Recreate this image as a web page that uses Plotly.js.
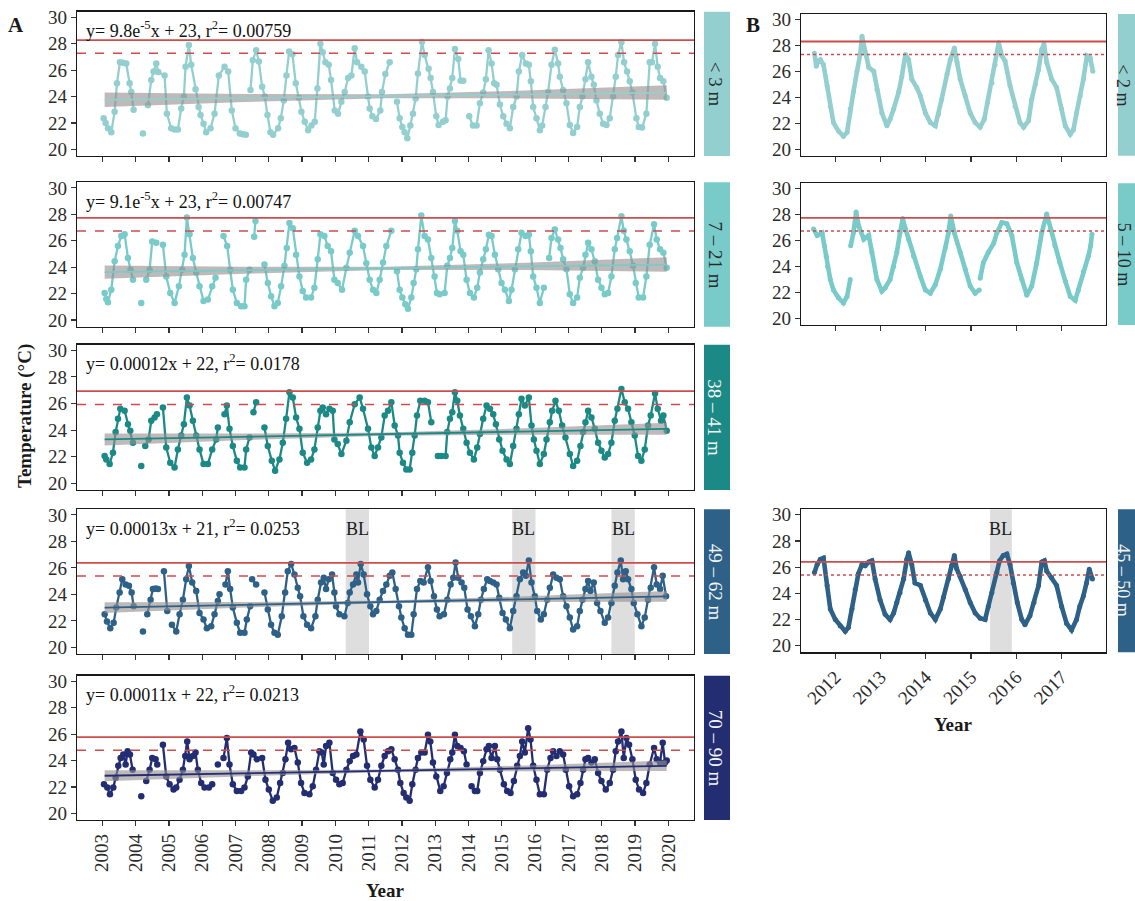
<!DOCTYPE html>
<html><head><meta charset="utf-8">
<script src="https://cdn.plot.ly/plotly-3.0.1.min.js"></script>
<style>body{margin:0;background:#fff}#chart{width:1135px;height:901px}</style>
</head><body><div id="chart"></div>
<script>
// ---------------- DATA ----------------
// Panel A, depth band < 3 m
const yearA1 = [
 2003.04,2003.10,2003.17,2003.27,2003.37,2003.44,2003.53,2003.62,2003.72,2003.82,2003.87,2003.94,null,
 2004.22,null,
 2004.37,2004.47,2004.54,2004.62,2004.68,2004.87,2004.94,
 2005.07,2005.17,2005.27,2005.37,2005.45,2005.50,2005.60,2005.67,2005.80,2005.89,2005.95,
 2006.04,2006.12,2006.25,2006.37,2006.50,2006.67,2006.78,2006.89,
 2007.00,2007.13,2007.22,2007.31,null,
 2007.45,2007.52,2007.62,2007.70,2007.80,2007.88,2007.96,
 2008.05,2008.13,2008.28,2008.36,2008.45,2008.53,2008.61,2008.71,2008.81,2008.90,2008.98,
 2009.08,2009.18,2009.28,2009.38,2009.46,2009.55,2009.62,2009.70,2009.80,2009.87,2009.98,
 2010.08,2010.18,2010.28,2010.38,2010.48,2010.58,2010.65,2010.78,2010.88,2010.98,
 2011.03,2011.11,2011.22,2011.35,2011.40,2011.50,2011.63,null,
 2011.85,2011.93,2012.01,2012.08,2012.16,2012.25,2012.33,2012.41,2012.48,2012.60,2012.68,2012.80,2012.86,2012.93,
 2013.03,2013.10,2013.23,2013.31,2013.37,2013.44,2013.51,2013.59,2013.69,2013.76,2013.84,null,
 2014.02,2014.13,2014.24,2014.34,2014.44,2014.52,2014.60,2014.69,2014.77,2014.84,2014.94,
 2015.04,2015.14,2015.24,2015.34,2015.44,2015.51,2015.61,2015.72,2015.81,2015.87,2015.94,
 2016.04,2016.14,2016.21,2016.31,2016.39,2016.49,2016.59,2016.69,2016.74,2016.84,2016.94,
 2017.04,2017.14,2017.26,2017.34,2017.42,2017.51,2017.59,2017.69,2017.76,2017.84,2017.94,
 2018.04,2018.14,2018.24,2018.34,2018.42,2018.49,2018.59,2018.67,2018.76,2018.84,2018.92,
 2019.04,2019.11,2019.21,2019.34,2019.44,2019.51,2019.60,2019.68,2019.75,2019.85,2019.95];
const tempA1 = [
 22.35,22.0,21.6,21.3,22.85,25.0,26.6,26.55,26.5,25.0,24.35,23.0,null,
 21.2,null,
 23.35,25.25,25.9,26.5,25.85,25.6,22.7,
 21.6,21.5,21.5,23.1,24.0,26.25,27.9,26.4,24.55,23.2,22.6,
 21.95,21.3,21.6,22.7,25.6,26.25,25.9,22.95,
 21.6,21.2,21.15,21.1,null,
 24.5,26.75,27.5,26.65,24.75,24.0,22.6,
 21.3,21.1,21.6,22.35,23.7,25.6,27.4,27.2,25.0,23.9,22.85,
 22.1,21.45,21.8,22.1,24.6,28.0,27.35,26.6,26.4,25.25,22.95,
 22.7,23.6,24.35,25.4,25.6,27.65,26.6,26.25,25.9,24.0,
 23.1,22.5,22.3,22.95,24.35,25.7,26.6,null,
 23.6,22.35,21.7,21.3,20.85,21.8,22.7,23.85,25.75,28.15,27.15,26.1,25.4,24.35,
 22.5,21.85,22.1,22.2,24.0,24.6,25.4,27.6,26.85,25.2,25.2,null,
 22.5,21.8,21.8,23.5,24.3,25.3,27.5,26.5,25.0,24.9,23.4,
 22.5,21.95,21.6,23.2,24.0,25.9,27.15,26.5,26.4,25.15,23.2,
 22.35,21.45,21.8,23.2,24.35,26.4,27.55,26.5,25.5,24.5,23.5,
 21.85,21.25,21.7,23.2,24.0,25.3,26.6,25.5,24.9,23.7,22.7,
 21.95,21.85,22.35,24.0,25.5,27.15,28.1,26.6,25.9,25.15,24.3,
 22.35,21.7,21.65,22.7,26.6,26.6,28.0,26.25,25.4,25.15,23.9];

// Panel A, 7 - 21 m
const yearA2 = [
 2003.07,2003.12,2003.17,2003.27,2003.37,2003.47,2003.57,2003.67,2003.77,2003.85,2003.92,null,
 2004.17,null,
 2004.32,2004.42,2004.50,2004.62,null,
 2004.82,2004.92,2005.04,2005.17,2005.30,2005.40,2005.47,2005.54,2005.62,2005.72,2005.82,2005.92,2006.04,2006.17,2006.30,2006.40,null,
 2006.64,2006.75,2006.84,2006.92,2007.04,2007.17,2007.27,2007.32,2007.42,null,
 2007.56,2007.60,null,
 2007.87,2007.97,
 2008.07,2008.17,2008.27,2008.37,2008.47,2008.54,2008.62,2008.72,2008.82,2008.92,
 2009.02,2009.12,2009.27,2009.37,2009.47,2009.55,2009.67,2009.77,2009.87,2009.97,
 2010.07,2010.20,2010.33,2010.43,2010.58,2010.68,2010.83,2010.93,
 2011.03,2011.13,2011.23,2011.33,2011.43,2011.53,2011.68,null,
 2011.85,2011.93,
 2012.01,2012.10,2012.18,2012.28,2012.35,2012.43,2012.48,2012.58,2012.68,2012.78,2012.88,2012.98,
 2013.05,2013.13,2013.28,2013.36,2013.44,2013.51,2013.59,2013.66,2013.76,2013.84,2013.94,
 2014.04,2014.16,2014.26,2014.34,2014.44,2014.52,2014.61,2014.69,2014.79,2014.89,2014.99,
 2015.09,2015.21,2015.29,2015.39,2015.49,2015.59,2015.71,2015.81,2015.87,2015.94,
 2016.04,2016.14,2016.26,null,
 2016.42,2016.49,2016.59,2016.69,2016.76,2016.84,2016.94,
 2017.04,2017.14,2017.26,2017.34,2017.44,2017.51,2017.59,2017.69,2017.79,2017.89,2017.99,
 2018.09,2018.19,2018.29,2018.39,2018.46,2018.59,2018.66,2018.74,2018.84,2018.94,
 2019.02,2019.11,2019.24,2019.34,2019.44,2019.57,2019.65,2019.75,2019.85,2019.95];
const tempA2 = [
 22.05,21.6,21.35,22.3,24.45,25.6,26.35,26.5,24.7,23.8,23.05,null,
 21.3,null,
 23.05,23.8,25.95,25.85,null,
 25.7,23.3,22.05,21.3,22.55,23.8,24.95,27.75,26.5,24.7,23.6,22.55,21.45,21.55,22.55,23.2,null,
 26.35,25.6,23.8,22.3,21.3,21.05,21.05,23.05,23.8,null,
 26.3,27.5,null,
 24.2,22.8,
 21.8,21.05,21.3,22.55,24.1,25.45,27.35,26.95,24.95,23.3,
 22.2,21.7,21.7,22.45,24.6,26.5,26.35,25.6,25.2,23.05,
 22.8,22.3,23.95,25.1,26.75,26.35,25.6,24.3,
 23.05,22.3,22.05,23.05,24.35,25.6,26.75,null,
 23.7,22.3,
 21.7,21.2,20.85,21.7,22.8,23.85,25.35,27.9,26.35,26.1,24.7,23.3,
 22.05,21.95,22.05,24.1,24.7,25.45,27.5,26.75,25.2,24.95,23.05,
 22.05,21.7,22.45,23.6,24.6,25.35,26.45,26.35,24.95,23.85,22.8,
 22.3,21.45,22.3,23.85,25.35,26.6,26.35,26.45,25.2,23.3,
 22.45,21.3,22.45,null,
 24.7,26.2,26.85,26.1,25.45,24.6,23.85,
 21.95,21.3,21.7,23.2,23.95,24.95,25.85,25.35,24.45,23.05,22.45,
 21.95,22.05,23.3,25.35,26.2,27.85,26.75,26.1,25.2,24.1,
 22.8,21.7,21.7,23.3,25.7,27.25,26.1,25.35,25.1,23.95];

// Panel A, 38 - 41 m
const yearA3 = [
 2003.07,2003.12,2003.22,2003.32,2003.40,2003.47,2003.54,2003.67,2003.77,2003.84,2003.92,null,
 2004.17,null,
 2004.29,2004.39,2004.47,2004.57,2004.64,null,
 2004.82,2004.92,2005.04,2005.17,2005.27,2005.37,2005.45,2005.54,2005.62,2005.72,2005.82,2005.92,2006.04,2006.17,2006.30,2006.42,2006.47,null,
 2006.67,2006.74,2006.82,2006.92,2007.04,2007.14,2007.27,2007.32,2007.42,null,
 2007.54,2007.62,null,
 2007.87,2007.97,
 2008.09,2008.19,2008.32,2008.42,2008.52,2008.62,2008.72,2008.82,2008.92,
 2009.02,2009.15,2009.27,2009.37,2009.47,2009.55,2009.62,2009.72,2009.82,2009.92,2009.97,
 2010.07,2010.18,2010.33,2010.43,2010.58,2010.73,2010.83,2010.98,
 2011.08,2011.18,2011.28,2011.38,2011.48,2011.58,2011.68,2011.78,2011.88,2011.93,
 2012.03,2012.13,2012.23,2012.31,2012.38,2012.45,2012.55,2012.68,2012.78,2012.88,null,
 2013.08,2013.18,2013.31,2013.36,2013.44,2013.51,2013.59,2013.66,2013.74,2013.84,2013.94,
 2014.04,2014.16,2014.26,2014.34,2014.44,2014.54,2014.64,2014.74,2014.82,2014.92,
 2015.02,2015.14,2015.24,2015.34,2015.44,2015.51,2015.59,2015.69,2015.81,2015.89,2015.96,
 2016.04,2016.14,2016.26,2016.34,2016.44,2016.51,2016.61,2016.71,2016.81,2016.91,
 2017.04,2017.14,2017.26,2017.36,2017.44,2017.51,2017.59,2017.69,2017.79,2017.89,2017.99,
 2018.09,2018.19,2018.29,2018.39,2018.47,2018.59,2018.69,2018.79,2018.89,2018.99,
 2019.09,2019.19,2019.29,2019.39,2019.47,2019.60,2019.68,2019.78,2019.85,2019.95];
const tempA3 = [
 22.05,21.8,21.45,22.3,23.85,24.85,25.6,25.45,24.45,23.95,23.05,null,
 21.3,null,
 22.8,23.3,24.7,24.95,25.2,null,
 25.7,22.7,21.55,21.2,22.55,23.6,24.45,26.45,25.85,24.7,23.6,22.55,21.45,21.45,22.55,23.3,24.2,null,
 25.2,25.85,24.1,22.8,21.7,21.2,21.2,22.55,23.45,null,
 25.35,26.1,null,
 24.2,22.8,
 21.7,20.95,21.8,23.05,24.85,26.85,26.45,24.95,24.1,
 22.3,21.55,21.8,22.55,24.2,25.45,25.7,25.2,25.6,25.45,23.3,
 22.95,22.2,23.2,24.6,25.95,26.45,25.6,24.1,
 22.7,22.05,22.7,23.45,25.1,25.45,26.1,24.35,23.6,22.3,
 21.55,21.05,21.05,22.3,23.6,25.1,26.2,26.2,26.1,24.6,null,
 22.05,22.05,22.05,23.85,24.85,25.35,26.85,26.2,25.1,24.1,23.05,
 22.3,21.8,22.7,23.7,24.85,25.85,25.6,25.2,24.45,23.3,
 22.45,21.8,21.45,22.8,24.1,25.2,26.35,25.85,26.45,24.35,23.3,
 22.45,21.45,22.2,23.3,24.6,25.45,26.2,25.45,24.35,23.45,
 22.2,21.3,21.7,22.8,23.85,24.6,25.45,24.95,24.1,23.05,22.45,
 21.95,22.2,23.05,24.7,25.6,27.1,26.1,25.6,24.6,23.6,
 22.05,21.7,22.55,24.35,25.1,26.75,25.6,24.7,25.1,23.95];

// Panel A, 49 - 62 m
const yearA4 = [
 2003.07,2003.14,2003.24,2003.34,2003.42,2003.52,2003.60,2003.70,2003.80,2003.88,2003.94,null,
 2004.22,null,
 2004.35,2004.45,2004.52,2004.60,2004.67,null,
 2004.85,2004.95,null,
 2005.09,2005.22,2005.32,2005.42,2005.52,2005.60,2005.70,2005.82,2005.92,2006.04,2006.14,2006.27,2006.37,2006.47,2006.52,null,
 2006.70,2006.77,2006.84,2006.92,2007.04,2007.14,2007.27,2007.34,2007.44,null,
 2007.50,2007.62,null,
 2007.87,2007.97,
 2008.07,2008.17,2008.27,2008.39,2008.49,2008.57,2008.67,2008.77,2008.87,2008.94,
 2009.04,2009.15,2009.27,2009.40,2009.47,2009.57,2009.65,2009.72,2009.80,2009.90,2009.97,
 2010.02,2010.12,2010.27,2010.37,2010.43,2010.53,2010.63,2010.68,2010.76,2010.85,2010.95,
 2011.05,2011.13,2011.23,2011.33,2011.43,2011.53,2011.63,2011.71,2011.81,2011.91,2011.98,
 2012.08,2012.18,2012.28,2012.35,2012.45,2012.55,2012.65,2012.78,2012.86,2012.96,
 2013.05,2013.13,2013.26,2013.36,2013.46,2013.54,2013.61,2013.69,2013.79,2013.87,2013.97,
 2014.07,2014.19,2014.29,2014.37,2014.46,2014.56,2014.64,2014.74,2014.84,2014.92,
 2015.02,2015.12,2015.24,2015.34,2015.44,2015.54,2015.64,2015.72,2015.81,2015.89,2015.99,
 2016.06,2016.17,2016.26,2016.36,2016.44,2016.54,2016.64,2016.74,2016.84,2016.94,
 2017.04,2017.14,2017.26,2017.34,2017.42,2017.51,2017.59,2017.66,2017.76,2017.86,2017.96,
 2018.09,2018.19,2018.29,2018.39,2018.47,2018.57,2018.64,2018.72,2018.79,2018.89,2018.96,
 2019.07,2019.19,2019.29,2019.39,2019.47,2019.57,2019.65,2019.75,2019.83,2019.93];
const tempA4 = [
 22.5,21.95,21.45,21.85,23.0,24.15,25.15,24.75,24.65,24.15,23.1,null,
 21.2,null,
 22.5,23.6,24.4,24.45,24.4,null,
 25.75,22.75,null,
 21.7,21.2,22.5,23.6,25.15,26.15,24.9,24.25,22.6,22.1,21.45,21.6,22.5,23.5,24.0,null,
 24.75,25.75,24.4,23.0,21.85,21.1,21.1,22.1,23.1,null,
 25.15,24.75,null,
 24.15,22.85,
 21.7,21.1,20.95,22.35,24.15,25.75,26.3,25.5,24.5,23.85,
 22.35,21.7,21.45,22.35,23.6,24.9,25.25,24.4,25.15,25.5,24.15,
 23.1,22.5,22.35,23.35,24.15,24.75,25.5,24.9,26.3,25.5,24.0,
 23.1,22.5,22.75,23.6,24.25,24.75,25.4,25.65,24.4,23.1,22.25,
 21.45,20.95,20.95,22.5,24.4,25.0,24.9,26.05,25.0,23.85,
 22.85,22.35,22.5,23.6,24.75,25.25,26.4,25.25,24.9,24.5,22.85,
 22.35,21.6,22.5,23.6,24.4,25.15,25.0,24.9,24.75,23.75,
 22.6,22.1,21.45,22.75,23.85,25.15,25.65,25.4,26.55,24.9,23.85,
 22.75,22.1,22.5,23.6,24.5,25.5,25.25,25.15,23.85,23.1,
 22.25,21.35,21.6,22.75,23.6,24.4,25.0,24.25,24.9,23.35,22.75,
 21.85,22.25,23.35,24.65,25.65,26.55,25.15,25.75,25.15,24.4,23.35,
 22.5,21.6,22.25,23.6,24.5,26.05,24.75,24.4,25.4,23.85];

// Panel A, 70 - 90 m
const yearA5 = [
 2003.05,2003.15,2003.23,2003.33,2003.40,2003.48,2003.55,2003.63,2003.70,2003.76,2003.83,2003.91,null,
 2004.17,null,
 2004.32,2004.42,2004.50,2004.60,2004.65,null,
 2004.82,2004.92,2005.02,2005.14,2005.22,2005.32,2005.42,2005.49,2005.55,2005.62,2005.72,2005.80,2005.87,2005.97,2006.07,2006.20,2006.30,null,
 2006.47,null,
 2006.64,2006.74,2006.82,2006.92,2007.04,2007.17,2007.27,2007.37,2007.47,2007.54,2007.64,null,
 2007.80,2007.90,
 2008.00,2008.12,2008.24,2008.34,2008.42,2008.50,2008.58,2008.67,2008.77,2008.87,2008.97,
 2009.07,2009.22,2009.32,2009.42,2009.52,2009.59,2009.65,2009.72,2009.82,2009.92,
 2010.02,2010.12,2010.22,2010.33,2010.43,2010.53,2010.63,2010.75,2010.85,2010.95,
 2011.05,2011.18,2011.28,2011.38,2011.48,2011.58,2011.68,2011.78,2011.88,2011.95,
 2012.05,2012.13,2012.23,2012.31,2012.41,2012.48,2012.58,2012.68,2012.78,2012.85,2012.93,
 2013.03,2013.15,2013.25,2013.35,2013.45,2013.51,2013.59,2013.66,2013.76,2013.86,2013.94,null,
 2014.09,2014.19,2014.26,2014.34,2014.44,2014.54,2014.61,2014.69,2014.79,2014.86,2014.94,
 2015.06,2015.16,2015.26,2015.36,2015.46,2015.54,2015.61,2015.69,2015.79,2015.86,2015.94,
 2016.04,2016.14,2016.26,2016.36,2016.46,2016.54,2016.64,2016.74,2016.84,2016.92,
 2017.02,2017.14,2017.26,2017.36,2017.44,2017.51,2017.59,2017.69,2017.79,2017.89,2017.99,
 2018.12,2018.24,2018.34,2018.42,2018.49,2018.59,2018.66,2018.74,2018.82,2018.92,
 2019.02,2019.12,2019.24,2019.34,2019.44,2019.57,2019.65,2019.75,2019.83,2019.90,2019.95];
const tempA5 = [
 22.2,21.95,21.45,21.95,22.7,23.6,24.2,24.45,23.7,24.7,24.45,23.3,null,
 21.3,null,
 22.45,23.3,24.2,24.1,23.7,null,
 25.2,22.8,22.2,21.8,21.95,22.55,23.3,24.35,25.45,24.1,24.35,24.6,23.3,22.3,21.95,21.95,22.2,null,
 23.7,null,
 24.2,25.7,23.7,22.2,21.7,21.7,21.95,22.8,24.6,24.45,24.1,null,
 24.2,22.55,
 21.8,20.95,21.2,22.3,23.05,24.1,25.35,24.85,24.95,23.85,22.3,
 21.55,21.45,22.05,23.3,24.7,24.6,23.7,25.1,25.35,23.05,
 22.55,22.2,22.3,23.3,23.95,24.35,24.45,26.2,25.6,23.6,
 22.55,21.95,22.55,23.6,24.35,24.7,24.85,24.1,23.3,22.3,
 21.55,21.2,20.95,22.2,23.3,24.2,24.6,24.6,25.95,25.45,23.85,
 22.8,21.7,22.05,23.05,24.1,24.6,25.95,25.1,24.95,24.7,23.7,null,
 22.05,21.7,21.7,23.05,23.95,24.85,25.1,24.2,25.1,24.1,23.3,
 22.2,21.7,21.55,22.45,23.6,24.35,25.45,24.6,26.45,25.6,23.6,
 22.55,21.45,21.45,23.3,24.2,24.7,24.35,24.7,24.45,23.3,
 22.05,21.3,21.45,22.3,23.3,24.1,24.2,23.85,24.1,23.05,22.45,
 21.8,22.3,23.3,24.7,25.45,26.2,24.2,25.7,25.2,24.1,
 22.55,21.8,21.55,22.3,23.7,24.95,24.1,23.85,25.35,23.85,24.0];

// Panel B, < 2 m
const yearB1 = [
 2011.54,2011.58,2011.62,2011.67,2011.74,2011.82,2011.89,2011.96,
 2012.07,2012.18,2012.26,2012.33,2012.40,2012.48,2012.55,2012.59,2012.66,2012.74,2012.85,2012.92,
 2013.03,2013.14,2013.21,2013.29,2013.40,2013.47,2013.55,2013.62,2013.69,2013.80,2013.88,2013.99,
 2014.10,2014.21,2014.28,2014.35,2014.47,2014.54,2014.63,2014.69,2014.76,2014.87,2014.98,
 2015.09,2015.20,2015.29,2015.36,2015.46,2015.53,2015.61,2015.68,2015.75,2015.86,2015.97,
 2016.08,2016.16,2016.27,2016.34,2016.42,2016.49,2016.56,2016.61,2016.67,2016.78,2016.89,
 2017.00,2017.08,2017.19,2017.26,2017.33,2017.41,2017.48,2017.56,2017.63,2017.69];
const tempB1 = [
 27.4,26.4,26.8,26.9,26.5,24.9,23.3,22.05,
 21.4,21.0,21.3,23.1,24.4,26.0,27.3,28.7,27.4,26.3,26.0,24.6,
 22.8,21.8,22.3,23.1,24.4,25.6,27.3,26.9,25.4,24.75,24.1,22.8,
 22.05,21.8,22.7,23.85,25.8,26.9,27.8,26.7,25.4,24.1,22.8,
 22.05,21.7,22.3,23.6,25.1,26.5,28.2,27.2,26.8,24.9,23.3,
 22.05,21.7,22.2,23.85,25.0,26.15,27.7,28.1,26.7,25.4,24.75,
 23.1,21.8,21.15,21.5,22.8,24.1,25.4,27.2,27.05,26.0];

// Panel B, 5 - 10 m
const yearB2 = [
 2011.52,2011.60,2011.71,2011.76,2011.80,2011.83,2011.89,2011.96,
 2012.07,2012.18,2012.26,2012.33,null,2012.34,2012.40,2012.46,2012.52,2012.63,2012.74,2012.81,2012.92,
 2013.03,2013.10,2013.21,2013.29,2013.36,2013.43,2013.49,2013.55,2013.62,2013.73,2013.88,2013.99,
 2014.10,2014.21,2014.32,2014.43,2014.50,2014.55,2014.63,2014.76,2014.87,2014.98,
 2015.09,2015.18,null,2015.20,2015.27,2015.38,2015.50,2015.57,2015.68,2015.79,2015.90,
 2016.01,2016.12,2016.23,2016.34,2016.45,2016.56,2016.67,2016.76,2016.85,2016.96,
 2017.08,2017.19,2017.30,2017.37,2017.48,2017.59,2017.64,2017.67];
const tempB2 = [
 26.9,26.4,26.6,25.6,24.8,24.0,23.0,22.2,
 21.6,21.2,21.7,23.0,null,25.6,26.6,28.2,27.1,26.1,26.4,25.1,23.0,
 22.1,22.35,23.0,24.0,25.1,26.6,27.7,26.9,26.1,24.8,23.25,22.2,
 21.95,22.6,23.8,25.45,26.6,27.9,26.6,25.1,23.8,22.5,
 21.95,22.2,null,23.1,24.3,25.1,25.8,26.6,27.4,27.3,26.4,
 24.3,23.0,21.8,22.5,24.3,26.6,28.05,26.9,25.6,24.3,
 22.9,21.7,21.4,22.2,23.6,24.8,25.6,26.5];

// Panel B, 45 - 50 m
const yearB4 = [
 2011.54,2011.60,2011.67,2011.74,2011.82,2011.89,
 2012.00,2012.11,2012.22,2012.29,2012.37,2012.44,2012.51,2012.59,2012.66,2012.74,2012.81,2012.88,2012.99,
 2013.10,2013.21,2013.29,2013.36,2013.43,2013.51,2013.58,2013.62,2013.69,2013.76,2013.88,2013.99,
 2014.10,2014.21,2014.32,2014.39,2014.50,2014.57,2014.63,2014.68,2014.76,2014.87,2014.98,
 2015.09,2015.20,2015.31,2015.38,2015.46,2015.57,2015.63,2015.71,2015.79,2015.86,2015.93,
 2016.02,2016.12,2016.19,2016.30,2016.39,2016.49,2016.56,2016.62,2016.67,2016.78,2016.89,
 2017.00,2017.11,2017.22,2017.33,2017.40,2017.48,2017.55,2017.61,2017.68];
const tempB4 = [
 25.6,26.2,26.6,26.7,24.6,22.8,
 22.0,21.5,21.1,21.4,22.8,24.3,25.5,26.2,26.1,26.4,26.5,25.1,23.5,
 22.4,22.0,22.5,23.3,24.05,25.1,26.6,27.1,26.2,24.8,24.6,23.5,
 22.5,22.0,22.8,23.7,25.1,26.1,26.9,25.9,25.3,24.3,23.3,
 22.5,22.1,22.0,23.0,24.05,25.6,26.5,26.9,27.0,26.2,24.8,
 23.3,22.0,21.6,22.3,23.3,24.6,26.4,26.5,25.7,25.2,24.6,
 23.0,21.7,21.2,22.0,23.0,23.8,24.8,25.85,25.1];

// Linear fits (panel A) with confidence band
const fitYear = [2003.07, 2007.3, 2011.5, 2015.7, 2019.95];
const fitMid = [[23.75,23.89,24.02,24.16,24.30],[23.62,23.77,23.91,24.06,24.20],[23.30,23.50,23.70,23.90,24.10],[23.00,23.21,23.43,23.64,23.85],[22.85,23.04,23.22,23.41,23.60]];
const fitLo  = [[23.20,23.59,23.87,23.86,23.75],[23.12,23.50,23.78,23.79,23.65],[22.85,23.26,23.58,23.66,23.65],[22.60,23.00,23.33,23.43,23.45],[22.43,22.82,23.11,23.19,23.20]];
const fitHi  = [[24.30,24.19,24.17,24.46,24.85],[24.12,24.04,24.04,24.33,24.75],[23.75,23.74,23.82,24.14,24.55],[23.40,23.42,23.53,23.85,24.25],[23.27,23.26,23.33,23.63,24.00]];
const eqText = ['y= 9.8e<sup>-5</sup>x + 23, r<sup>2</sup>= 0.00759','y= 9.1e<sup>-5</sup>x + 23, r<sup>2</sup>= 0.00747','y= 0.00012x + 22, r<sup>2</sup>= 0.0178','y= 0.00013x + 21, r<sup>2</sup>= 0.0253','y= 0.00011x + 22, r<sup>2</sup>= 0.0213'];

// Thresholds (MMM dashed, MMM+1 solid)
const mmmA = [27.27, 26.73, 25.93, 25.38, 24.77];
const mmmB = [27.30, 26.75, 25.40];

// Bleaching (BL) periods
const blA = [[2010.31, 2011.01], [2015.31, 2016.01], [2018.29, 2018.99]];
const blB = [[2015.42, 2015.90]];

const labelsA = ['< 3 m', '7 – 21 m', '38 – 41 m', '49 – 62 m', '70 – 90 m'];
const labelsB = ['< 2 m', '5 – 10 m', '45 – 50 m'];
const yearTicksA = [2003,2004,2005,2006,2007,2008,2009,2010,2011,2012,2013,2014,2015,2016,2017,2018,2019,2020];
const yearTicksB = [2012,2013,2014,2015,2016,2017];
const tempTicks = [20,22,24,26,28,30];

// ---------------- STYLE / LAYOUT ----------------
const W = 1135, H = 901;
const FONT = 'Liberation Serif, Times New Roman, serif';
const colA = ['#94CFCF', '#79CBCA', '#1B8985', '#2E6187', '#232D72'];
const colB = ['#94CFCF', '#79CBCA', '#2E6187'];
const stripTxtA = ['#2a2a2a', '#2a2a2a', '#f4f4f4', '#f4f4f4', '#f4f4f4'];
const stripTxtB = ['#2a2a2a', '#2a2a2a', '#f4f4f4'];
const RED = '#CD4C4C';
const fx = p => p / W, fy = p => 1 - p / H;
const rowsA = [[11.7,156],[182.3,326.7],[344.7,490],[509.3,654],[675.7,820]];
const rowsB = [[14,155.7],[183.3,325],[509.3,652.3]];
const xDomA = [fx(77), fx(694)], xDomB = [fx(801), fx(1106)];
const xRangeA = [2002.24, 2020.77], xRangeB = [2011.243, 2017.98];
const yRange = [19.5, 30.42];

const traces = [], shapes = [], annotations = [];
const layout = {
  width: W, height: H, margin: {l:0, r:0, t:0, b:0},
  paper_bgcolor: '#fff', plot_bgcolor: '#fff', showlegend: false,
  font: {family: FONT, size: 18, color: '#222'}
};

function axisStyle(extra) {
  return Object.assign({
    showline: true, mirror: true, linecolor: '#1a1a1a', linewidth: 1.3,
    ticks: 'outside', ticklen: 5, tickwidth: 1.2, tickcolor: '#333',
    showgrid: false, zeroline: false,
    tickfont: {family: FONT, size: 19, color: '#2b2b2b'}
  }, extra);
}

function panel(i, xDom, row, xRange, ticks, showLbl, angle) {
  const n = i + 1;
  const xk = n === 1 ? 'xaxis' : 'xaxis' + n, yk = n === 1 ? 'yaxis' : 'yaxis' + n;
  layout[xk] = axisStyle({domain: xDom, range: xRange, anchor: 'y' + n, tickmode: 'array', tickvals: ticks,
    ticktext: ticks.map(String), showticklabels: showLbl, tickangle: angle});
  layout[yk] = axisStyle({domain: [fy(row[1]), fy(row[0])], range: yRange, anchor: 'x' + n, tickmode: 'array',
    tickvals: tempTicks, ticktext: tempTicks.map(String)});
  return {x: 'x' + n, y: 'y' + n};
}

function thresholds(ax, mmm, dashStyle) {
  shapes.push({type: 'line', xref: ax.x + ' domain', yref: ax.y, x0: 0, x1: 1, y0: mmm + 1, y1: mmm + 1,
    line: {color: RED, width: 1.8}});
  shapes.push({type: 'line', xref: ax.x + ' domain', yref: ax.y, x0: 0, x1: 1, y0: mmm, y1: mmm,
    line: {color: RED, width: 1.5, dash: dashStyle}});
}

function ann(o) {
  return Object.assign({showarrow: false, xanchor: 'center', yanchor: 'middle'}, o);
}

function bl(ax, spans) {
  spans.forEach(s => {
    shapes.push({type: 'rect', xref: ax.x, yref: ax.y + ' domain', x0: s[0], x1: s[1], y0: 0, y1: 1,
      fillcolor: '#DEDEDE', line: {width: 0}, layer: 'below'});
    annotations.push(ann({xref: ax.x, yref: ax.y, x: (s[0] + s[1]) / 2, y: 28.9, text: 'BL',
      font: {family: FONT, size: 18, color: '#1a1a1a'}}));
  });
}

function strip(xl, xr, row, color, txt, txtColor, txtX, size) {
  shapes.push({type: 'rect', xref: 'paper', yref: 'paper', x0: fx(xl), x1: fx(xr), y0: fy(row[1]), y1: fy(row[0]),
    fillcolor: color, line: {width: 0}});
  annotations.push(ann({xref: 'paper', yref: 'paper', x: fx(txtX), y: fy((row[0] + row[1]) / 2),
    text: txt, textangle: 90, font: {family: FONT, size: size, color: txtColor}}));
}

// Panel A
const seriesA = [[yearA1, tempA1], [yearA2, tempA2], [yearA3, tempA3], [yearA4, tempA4], [yearA5, tempA5]];
seriesA.forEach((s, i) => {
  const ax = panel(i, xDomA, rowsA[i], xRangeA, yearTicksA, i === 4, i === 4 ? -90 : 0);
  traces.push({type: 'scatter', mode: 'lines+markers', x: s[0], y: s[1], xaxis: ax.x, yaxis: ax.y,
    line: {color: colA[i], width: 2.3}, marker: {color: colA[i], size: 6.5}, connectgaps: false, hoverinfo: 'skip'});
  traces.push({type: 'scatter', mode: 'lines', x: fitYear, y: fitLo[i], xaxis: ax.x, yaxis: ax.y,
    line: {width: 0, color: 'rgba(0,0,0,0)'}, hoverinfo: 'skip'});
  traces.push({type: 'scatter', mode: 'lines', x: fitYear, y: fitHi[i], xaxis: ax.x, yaxis: ax.y, fill: 'tonexty',
    fillcolor: 'rgba(150,144,144,0.62)', line: {width: 0, color: 'rgba(0,0,0,0)'}, hoverinfo: 'skip'});
  traces.push({type: 'scatter', mode: 'lines', x: fitYear, y: fitMid[i], xaxis: ax.x, yaxis: ax.y,
    line: {color: colA[i], width: 1.8}, hoverinfo: 'skip'});
  thresholds(ax, mmmA[i], 'dash');
  annotations.push(ann({xref: ax.x + ' domain', yref: ax.y, x: 0.012, y: 29.05, xanchor: 'left',
    text: eqText[i], font: {family: FONT, size: 18, color: '#111'}}));
  strip(704, 730, rowsA[i], colA[i], labelsA[i], stripTxtA[i], 715, 19);
});
bl({x: 'x4', y: 'y4'}, blA);

// Panel B
const seriesB = [[yearB1, tempB1], [yearB2, tempB2], [yearB4, tempB4]];
seriesB.forEach((s, j) => {
  const i = 5 + j;
  const ax = panel(i, xDomB, rowsB[j], xRangeB, yearTicksB, j === 2, j === 2 ? -45 : 0);
  traces.push({type: 'scatter', mode: 'lines+markers', x: s[0], y: s[1], xaxis: ax.x, yaxis: ax.y,
    line: {color: colB[j], width: 4.6}, marker: {color: colB[j], size: 5}, connectgaps: false, hoverinfo: 'skip'});
  thresholds(ax, mmmB[j], '3px,3px');
  strip(1118, 1144, rowsB[j], colB[j], labelsB[j], stripTxtB[j], 1123.5, 18);
});
bl({x: 'x8', y: 'y8'}, blB);

// Titles and panel letters
const bold = (sz) => ({family: FONT, size: sz, color: '#1a1a1a', weight: 'bold'});
annotations.push(ann({xref: 'paper', yref: 'paper', x: fx(16), y: fy(25), text: '<b>A</b>', font: bold(21)}));
annotations.push(ann({xref: 'paper', yref: 'paper', x: fx(753), y: fy(25), text: '<b>B</b>', font: bold(21)}));
annotations.push(ann({xref: 'paper', yref: 'paper', x: fx(25), y: fy(416), text: '<b>Temperature (°C)</b>', textangle: -90,
  font: bold(19)}));
annotations.push(ann({xref: 'paper', yref: 'paper', x: fx(385), y: fy(890), text: '<b>Year</b>', font: bold(19)}));
annotations.push(ann({xref: 'paper', yref: 'paper', x: fx(953), y: fy(724), text: '<b>Year</b>', font: bold(19)}));

layout.shapes = shapes;
layout.annotations = annotations;
Plotly.newPlot('chart', traces, layout, {staticPlot: true, displayModeBar: false});
</script>
</body></html>
